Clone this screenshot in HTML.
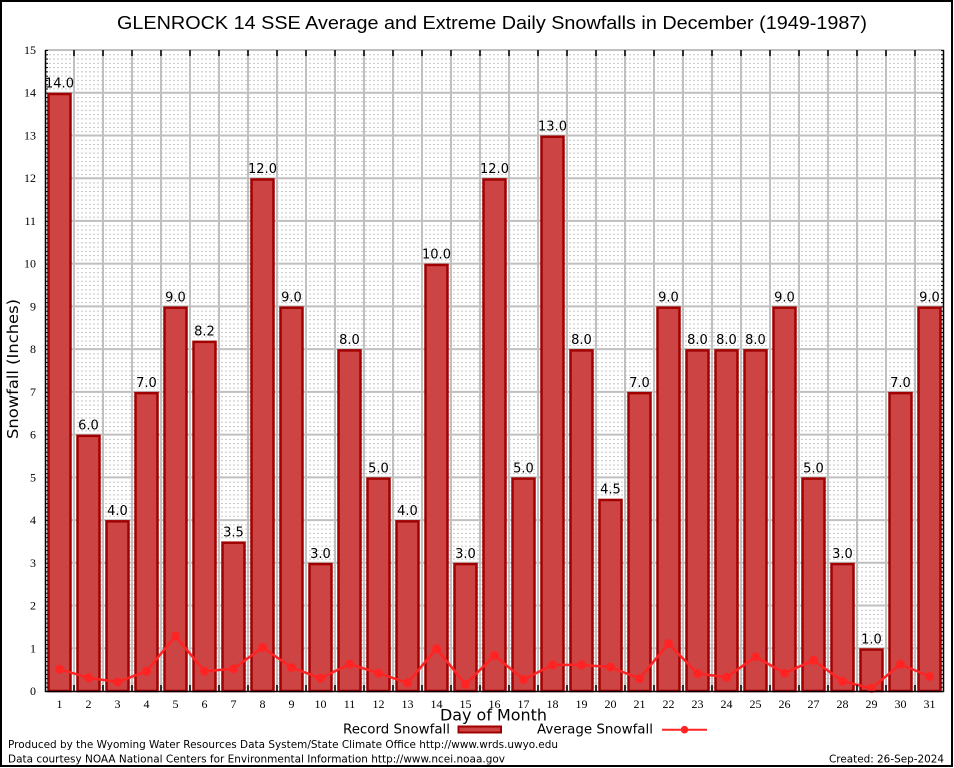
<!DOCTYPE html>
<html><head><meta charset="utf-8"><style>
html,body{margin:0;padding:0;background:#fff;}
svg{display:block;}
.t{font-family:"DejaVu Sans","Liberation Sans",sans-serif;}
.s{font-family:"Liberation Serif","DejaVu Serif",serif;font-size:12px;}
</style></head><body>
<svg width="954" height="768" viewBox="0 0 954 768" xmlns="http://www.w3.org/2000/svg">
<defs>
<pattern id="minor" patternUnits="userSpaceOnUse" x="45" y="50" width="4" height="4.27333">
<rect x="0" y="0" width="2" height="1" fill="#c4c4c4"/>
</pattern>
<pattern id="tick" patternUnits="userSpaceOnUse" x="0" y="50" width="10" height="4.27333">
<rect x="0" y="0" width="10" height="1" fill="#000"/>
</pattern>
</defs>
<rect x="0" y="0" width="954" height="768" fill="#fff"/>
<rect x="1" y="1" width="951" height="765" fill="none" stroke="#000" stroke-width="2"/>

<text x="492" y="29" text-anchor="middle" font-family="Liberation Sans, Arial, sans-serif" font-size="18" textLength="750" lengthAdjust="spacingAndGlyphs">GLENROCK 14 SSE Average and Extreme Daily Snowfalls in December (1949-1987)</text>

<!-- minor dotted grid -->
<rect x="45" y="50" width="899" height="641" fill="url(#minor)"/>
<!-- major grid -->
<g stroke="#c0c0c0" stroke-width="2">
<line x1="45" y1="50" x2="944" y2="50"/>
<line x1="45" y1="92.73" x2="944" y2="92.73"/>
<line x1="45" y1="135.47" x2="944" y2="135.47"/>
<line x1="45" y1="178.2" x2="944" y2="178.2"/>
<line x1="45" y1="220.93" x2="944" y2="220.93"/>
<line x1="45" y1="263.67" x2="944" y2="263.67"/>
<line x1="45" y1="306.4" x2="944" y2="306.4"/>
<line x1="45" y1="349.13" x2="944" y2="349.13"/>
<line x1="45" y1="391.87" x2="944" y2="391.87"/>
<line x1="45" y1="434.6" x2="944" y2="434.6"/>
<line x1="45" y1="477.33" x2="944" y2="477.33"/>
<line x1="45" y1="520.07" x2="944" y2="520.07"/>
<line x1="45" y1="562.8" x2="944" y2="562.8"/>
<line x1="45" y1="605.53" x2="944" y2="605.53"/>
<line x1="45" y1="648.27" x2="944" y2="648.27"/>
<line x1="74" y1="50" x2="74" y2="691"/><line x1="103" y1="50" x2="103" y2="691"/><line x1="132" y1="50" x2="132" y2="691"/><line x1="161" y1="50" x2="161" y2="691"/><line x1="190" y1="50" x2="190" y2="691"/><line x1="219" y1="50" x2="219" y2="691"/><line x1="248" y1="50" x2="248" y2="691"/><line x1="277" y1="50" x2="277" y2="691"/><line x1="306" y1="50" x2="306" y2="691"/><line x1="335" y1="50" x2="335" y2="691"/><line x1="364" y1="50" x2="364" y2="691"/><line x1="393" y1="50" x2="393" y2="691"/><line x1="422" y1="50" x2="422" y2="691"/><line x1="451" y1="50" x2="451" y2="691"/><line x1="480" y1="50" x2="480" y2="691"/><line x1="509" y1="50" x2="509" y2="691"/><line x1="538" y1="50" x2="538" y2="691"/><line x1="567" y1="50" x2="567" y2="691"/><line x1="596" y1="50" x2="596" y2="691"/><line x1="625" y1="50" x2="625" y2="691"/><line x1="654" y1="50" x2="654" y2="691"/><line x1="683" y1="50" x2="683" y2="691"/><line x1="712" y1="50" x2="712" y2="691"/><line x1="741" y1="50" x2="741" y2="691"/><line x1="770" y1="50" x2="770" y2="691"/><line x1="799" y1="50" x2="799" y2="691"/><line x1="828" y1="50" x2="828" y2="691"/><line x1="857" y1="50" x2="857" y2="691"/><line x1="886" y1="50" x2="886" y2="691"/><line x1="915" y1="50" x2="915" y2="691"/>
</g>

<!-- bars -->
<g fill="#cc4444" stroke="#a00000" stroke-width="2.5">
<rect x="48.5" y="93.98" width="22" height="597.02"/>
<rect x="77.5" y="435.85" width="22" height="255.15"/>
<rect x="106.5" y="521.32" width="22" height="169.68"/>
<rect x="135.5" y="393.12" width="22" height="297.88"/>
<rect x="164.5" y="307.65" width="22" height="383.35"/>
<rect x="193.5" y="341.85" width="22" height="349.15"/>
<rect x="222.5" y="542.68" width="22" height="148.32"/>
<rect x="251.5" y="179.45" width="22" height="511.55"/>
<rect x="280.5" y="307.65" width="22" height="383.35"/>
<rect x="309.5" y="564.05" width="22" height="126.95"/>
<rect x="338.5" y="350.38" width="22" height="340.62"/>
<rect x="367.5" y="478.58" width="22" height="212.42"/>
<rect x="396.5" y="521.32" width="22" height="169.68"/>
<rect x="425.5" y="264.92" width="22" height="426.08"/>
<rect x="454.5" y="564.05" width="22" height="126.95"/>
<rect x="483.5" y="179.45" width="22" height="511.55"/>
<rect x="512.5" y="478.58" width="22" height="212.42"/>
<rect x="541.5" y="136.72" width="22" height="554.28"/>
<rect x="570.5" y="350.38" width="22" height="340.62"/>
<rect x="599.5" y="499.95" width="22" height="191.05"/>
<rect x="628.5" y="393.12" width="22" height="297.88"/>
<rect x="657.5" y="307.65" width="22" height="383.35"/>
<rect x="686.5" y="350.38" width="22" height="340.62"/>
<rect x="715.5" y="350.38" width="22" height="340.62"/>
<rect x="744.5" y="350.38" width="22" height="340.62"/>
<rect x="773.5" y="307.65" width="22" height="383.35"/>
<rect x="802.5" y="478.58" width="22" height="212.42"/>
<rect x="831.5" y="564.05" width="22" height="126.95"/>
<rect x="860.5" y="649.52" width="22" height="41.48"/>
<rect x="889.5" y="393.12" width="22" height="297.88"/>
<rect x="918.5" y="307.65" width="22" height="383.35"/>
</g>

<!-- bar labels -->
<g class="t" font-size="13" text-anchor="middle" fill="#000">
<text x="59.5" y="87.7">14.0</text>
<text x="88.5" y="429.6">6.0</text>
<text x="117.5" y="515">4.0</text>
<text x="146.5" y="386.9">7.0</text>
<text x="175.5" y="301.4">9.0</text>
<text x="204.5" y="335.6">8.2</text>
<text x="233.5" y="536.4">3.5</text>
<text x="262.5" y="173.2">12.0</text>
<text x="291.5" y="301.4">9.0</text>
<text x="320.5" y="557.8">3.0</text>
<text x="349.5" y="344.1">8.0</text>
<text x="378.5" y="472.3">5.0</text>
<text x="407.5" y="515">4.0</text>
<text x="436.5" y="258.7">10.0</text>
<text x="465.5" y="557.8">3.0</text>
<text x="494.5" y="173.2">12.0</text>
<text x="523.5" y="472.3">5.0</text>
<text x="552.5" y="130.5">13.0</text>
<text x="581.5" y="344.1">8.0</text>
<text x="610.5" y="493.7">4.5</text>
<text x="639.5" y="386.9">7.0</text>
<text x="668.5" y="301.4">9.0</text>
<text x="697.5" y="344.1">8.0</text>
<text x="726.5" y="344.1">8.0</text>
<text x="755.5" y="344.1">8.0</text>
<text x="784.5" y="301.4">9.0</text>
<text x="813.5" y="472.3">5.0</text>
<text x="842.5" y="557.8">3.0</text>
<text x="871.5" y="643.3">1.0</text>
<text x="900.5" y="386.9">7.0</text>
<text x="929.5" y="301.4">9.0</text>
</g>

<!-- average line -->
<polyline fill="none" stroke="#ff2424" stroke-width="2.5" stroke-linejoin="round" points="59.5,669.2 88.5,677.8 117.5,682 146.5,671.3 175.5,635.9 204.5,671.3 233.5,668.8 262.5,647.4 291.5,667.5 320.5,678.2 349.5,664.1 378.5,673.1 407.5,682.9 436.5,648.7 465.5,684.2 494.5,655.5 523.5,679.5 552.5,664.9 581.5,664.9 610.5,667.1 639.5,678.6 668.5,643.6 697.5,673.5 726.5,677.3 755.5,656.8 784.5,673.1 813.5,660.2 842.5,681.2 871.5,688.4 900.5,664.1 929.5,676.5"/>
<g fill="#ff2424">
<circle cx="59.5" cy="669.2" r="4.5"/><circle cx="88.5" cy="677.8" r="4.5"/><circle cx="117.5" cy="682" r="4.5"/><circle cx="146.5" cy="671.3" r="4.5"/><circle cx="175.5" cy="635.9" r="4.5"/><circle cx="204.5" cy="671.3" r="4.5"/><circle cx="233.5" cy="668.8" r="4.5"/><circle cx="262.5" cy="647.4" r="4.5"/><circle cx="291.5" cy="667.5" r="4.5"/><circle cx="320.5" cy="678.2" r="4.5"/><circle cx="349.5" cy="664.1" r="4.5"/><circle cx="378.5" cy="673.1" r="4.5"/><circle cx="407.5" cy="682.9" r="4.5"/><circle cx="436.5" cy="648.7" r="4.5"/><circle cx="465.5" cy="684.2" r="4.5"/><circle cx="494.5" cy="655.5" r="4.5"/><circle cx="523.5" cy="679.5" r="4.5"/><circle cx="552.5" cy="664.9" r="4.5"/><circle cx="581.5" cy="664.9" r="4.5"/><circle cx="610.5" cy="667.1" r="4.5"/><circle cx="639.5" cy="678.6" r="4.5"/><circle cx="668.5" cy="643.6" r="4.5"/><circle cx="697.5" cy="673.5" r="4.5"/><circle cx="726.5" cy="677.3" r="4.5"/><circle cx="755.5" cy="656.8" r="4.5"/><circle cx="784.5" cy="673.1" r="4.5"/><circle cx="813.5" cy="660.2" r="4.5"/><circle cx="842.5" cy="681.2" r="4.5"/><circle cx="871.5" cy="688.4" r="4.5"/><circle cx="900.5" cy="664.1" r="4.5"/><circle cx="929.5" cy="676.5" r="4.5"/>
</g>

<!-- axes -->
<rect x="45" y="50" width="3" height="641" fill="url(#tick)"/>
<rect x="941" y="50" width="3" height="641" fill="url(#tick)"/>
<g stroke="#000" stroke-width="1.5">
<line x1="45.5" y1="50" x2="45.5" y2="692"/>
<line x1="943.5" y1="50" x2="943.5" y2="692"/>
<line x1="45" y1="691.5" x2="944" y2="691.5"/>
</g>
<g stroke="#000" stroke-width="1.5">
<line x1="74" y1="685" x2="74" y2="691"/><line x1="103" y1="685" x2="103" y2="691"/><line x1="132" y1="685" x2="132" y2="691"/><line x1="161" y1="685" x2="161" y2="691"/><line x1="190" y1="685" x2="190" y2="691"/><line x1="219" y1="685" x2="219" y2="691"/><line x1="248" y1="685" x2="248" y2="691"/><line x1="277" y1="685" x2="277" y2="691"/><line x1="306" y1="685" x2="306" y2="691"/><line x1="335" y1="685" x2="335" y2="691"/><line x1="364" y1="685" x2="364" y2="691"/><line x1="393" y1="685" x2="393" y2="691"/><line x1="422" y1="685" x2="422" y2="691"/><line x1="451" y1="685" x2="451" y2="691"/><line x1="480" y1="685" x2="480" y2="691"/><line x1="509" y1="685" x2="509" y2="691"/><line x1="538" y1="685" x2="538" y2="691"/><line x1="567" y1="685" x2="567" y2="691"/><line x1="596" y1="685" x2="596" y2="691"/><line x1="625" y1="685" x2="625" y2="691"/><line x1="654" y1="685" x2="654" y2="691"/><line x1="683" y1="685" x2="683" y2="691"/><line x1="712" y1="685" x2="712" y2="691"/><line x1="741" y1="685" x2="741" y2="691"/><line x1="770" y1="685" x2="770" y2="691"/><line x1="799" y1="685" x2="799" y2="691"/><line x1="828" y1="685" x2="828" y2="691"/><line x1="857" y1="685" x2="857" y2="691"/><line x1="886" y1="685" x2="886" y2="691"/><line x1="915" y1="685" x2="915" y2="691"/>
<line x1="74" y1="50" x2="74" y2="56"/><line x1="103" y1="50" x2="103" y2="56"/><line x1="132" y1="50" x2="132" y2="56"/><line x1="161" y1="50" x2="161" y2="56"/><line x1="190" y1="50" x2="190" y2="56"/><line x1="219" y1="50" x2="219" y2="56"/><line x1="248" y1="50" x2="248" y2="56"/><line x1="277" y1="50" x2="277" y2="56"/><line x1="306" y1="50" x2="306" y2="56"/><line x1="335" y1="50" x2="335" y2="56"/><line x1="364" y1="50" x2="364" y2="56"/><line x1="393" y1="50" x2="393" y2="56"/><line x1="422" y1="50" x2="422" y2="56"/><line x1="451" y1="50" x2="451" y2="56"/><line x1="480" y1="50" x2="480" y2="56"/><line x1="509" y1="50" x2="509" y2="56"/><line x1="538" y1="50" x2="538" y2="56"/><line x1="567" y1="50" x2="567" y2="56"/><line x1="596" y1="50" x2="596" y2="56"/><line x1="625" y1="50" x2="625" y2="56"/><line x1="654" y1="50" x2="654" y2="56"/><line x1="683" y1="50" x2="683" y2="56"/><line x1="712" y1="50" x2="712" y2="56"/><line x1="741" y1="50" x2="741" y2="56"/><line x1="770" y1="50" x2="770" y2="56"/><line x1="799" y1="50" x2="799" y2="56"/><line x1="828" y1="50" x2="828" y2="56"/><line x1="857" y1="50" x2="857" y2="56"/><line x1="886" y1="50" x2="886" y2="56"/><line x1="915" y1="50" x2="915" y2="56"/>
</g>

<!-- y tick labels -->
<g class="s" text-anchor="end" fill="#000">
<text x="36" y="54">15</text>
<text x="36" y="96.7">14</text>
<text x="36" y="139.5">13</text>
<text x="36" y="182.2">12</text>
<text x="36" y="224.9">11</text>
<text x="36" y="267.7">10</text>
<text x="36" y="310.4">9</text>
<text x="36" y="353.1">8</text>
<text x="36" y="395.9">7</text>
<text x="36" y="438.6">6</text>
<text x="36" y="481.3">5</text>
<text x="36" y="524.1">4</text>
<text x="36" y="566.8">3</text>
<text x="36" y="609.5">2</text>
<text x="36" y="652.3">1</text>
<text x="36" y="695">0</text>
</g>
<!-- x tick labels -->
<g class="s" text-anchor="middle" fill="#000">
<text x="59.5" y="708">1</text><text x="88.5" y="708">2</text><text x="117.5" y="708">3</text><text x="146.5" y="708">4</text><text x="175.5" y="708">5</text><text x="204.5" y="708">6</text><text x="233.5" y="708">7</text><text x="262.5" y="708">8</text><text x="291.5" y="708">9</text><text x="320.5" y="708">10</text><text x="349.5" y="708">11</text><text x="378.5" y="708">12</text><text x="407.5" y="708">13</text><text x="436.5" y="708">14</text><text x="465.5" y="708">15</text><text x="494.5" y="708">16</text><text x="523.5" y="708">17</text><text x="552.5" y="708">18</text><text x="581.5" y="708">19</text><text x="610.5" y="708">20</text><text x="639.5" y="708">21</text><text x="668.5" y="708">22</text><text x="697.5" y="708">23</text><text x="726.5" y="708">24</text><text x="755.5" y="708">25</text><text x="784.5" y="708">26</text><text x="813.5" y="708">27</text><text x="842.5" y="708">28</text><text x="871.5" y="708">29</text><text x="900.5" y="708">30</text><text x="929.5" y="708">31</text>
</g>

<!-- axis titles -->
<text class="t" transform="translate(18,369) rotate(-90)" text-anchor="middle" font-size="15" textLength="140" lengthAdjust="spacingAndGlyphs">Snowfall (Inches)</text>
<text class="t" x="440" y="720.5" font-size="16" textLength="107" lengthAdjust="spacingAndGlyphs">Day of Month</text>

<!-- legend -->
<text class="t" x="343" y="733.3" font-size="13" textLength="107" lengthAdjust="spacingAndGlyphs">Record Snowfall</text>
<rect x="458.5" y="726.5" width="42.5" height="6" fill="#cc4444" stroke="#a00000" stroke-width="2"/>
<text class="t" x="537" y="733.3" font-size="13" textLength="116" lengthAdjust="spacingAndGlyphs">Average Snowfall</text>
<line x1="662" y1="729.7" x2="707" y2="729.7" stroke="#ff2424" stroke-width="2"/>
<circle cx="684.5" cy="729.7" r="3.8" fill="#ff2424"/>

<!-- footer -->
<text class="t" x="8" y="748" font-size="11" textLength="550" lengthAdjust="spacingAndGlyphs">Produced by the Wyoming Water Resources Data System/State Climate Office http://www.wrds.uwyo.edu</text>
<text class="t" x="8" y="762.5" font-size="11" textLength="497" lengthAdjust="spacingAndGlyphs">Data courtesy NOAA National Centers for Environmental Information http://www.ncei.noaa.gov</text>
<text class="t" x="829" y="762.5" font-size="11" textLength="115" lengthAdjust="spacingAndGlyphs">Created: 26-Sep-2024</text>
</svg>
</body></html>
